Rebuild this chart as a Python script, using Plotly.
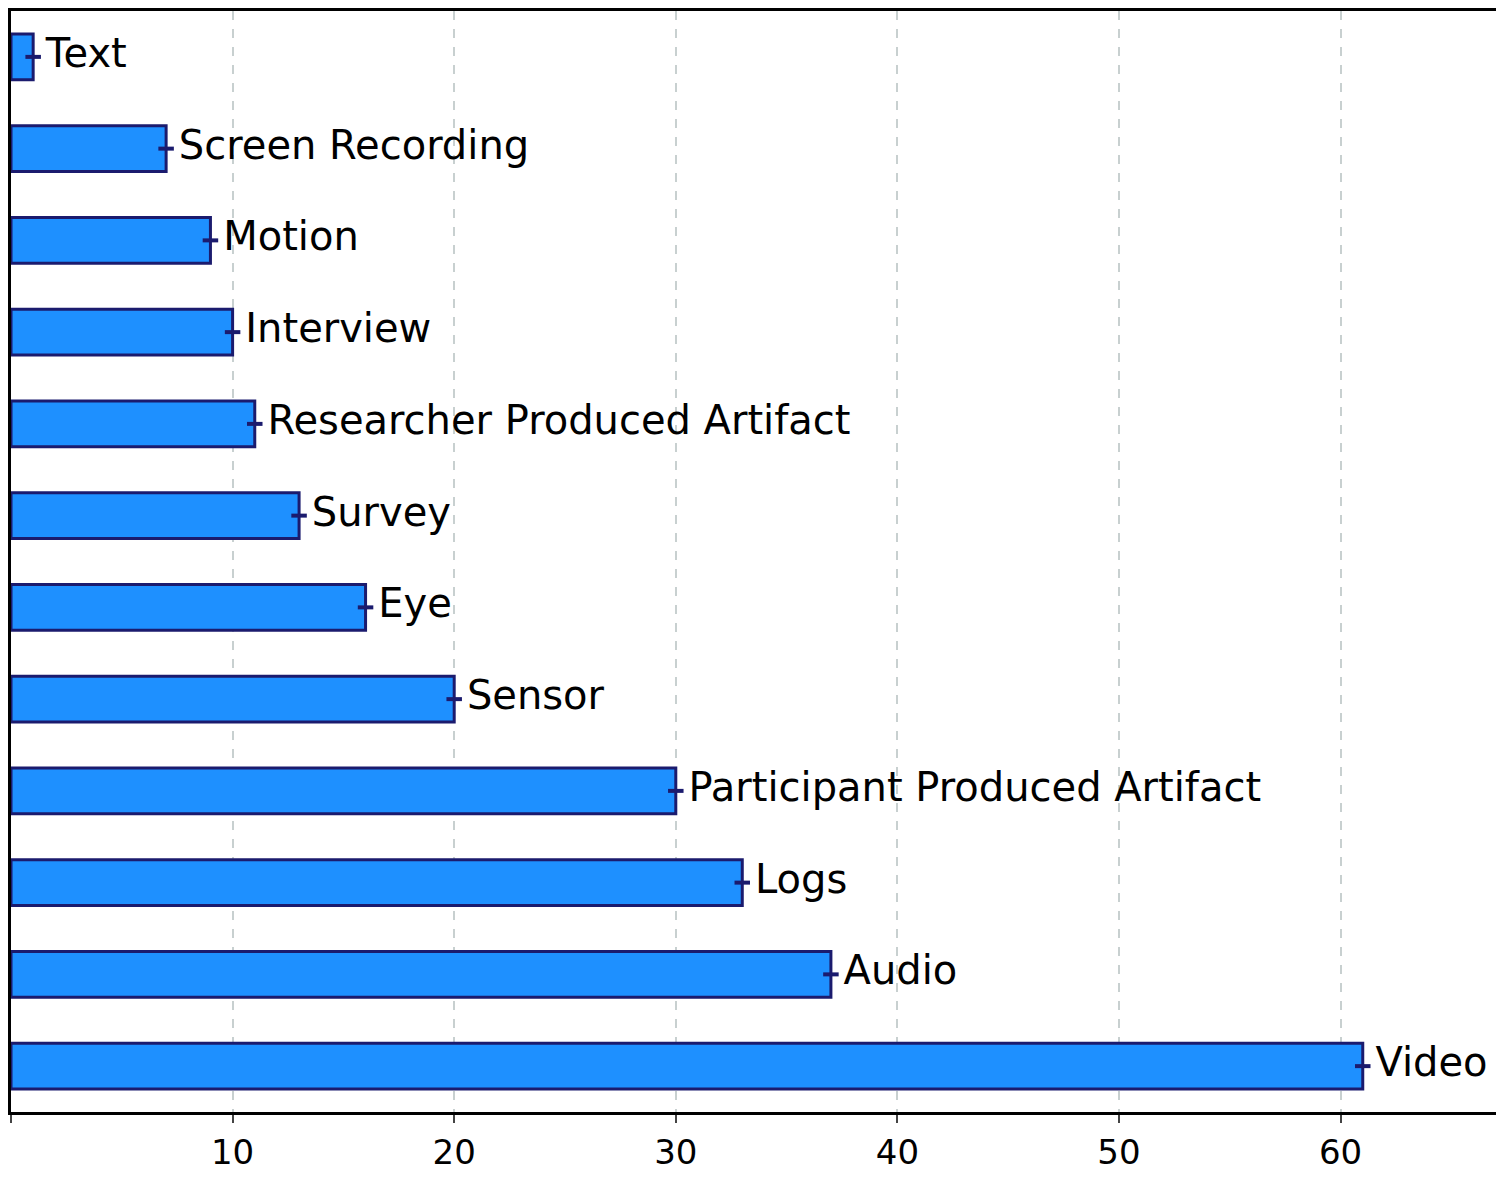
import plotly.graph_objects as go

categories = ["Video", "Audio", "Logs", "Participant Produced Artifact", "Sensor", "Eye",
              "Survey", "Researcher Produced Artifact", "Interview", "Motion",
              "Screen Recording", "Text"]
counts = [61, 37, 33, 30, 20, 16, 13, 11, 10, 9, 7, 1]
err = [0.35] * len(counts)

NAVY = "#1b1b6e"
FILL = "#1e90ff"
FONT = "DejaVu Sans"

fig = go.Figure()
fig.add_trace(go.Bar(
    x=counts, y=list(range(len(counts))), orientation="h", width=0.5,
    marker=dict(color=FILL, line=dict(color=NAVY, width=3)),
    error_x=dict(type="data", array=err, color=NAVY, thickness=4, width=0),
    showlegend=False, hoverinfo="x",
))
fig.add_trace(go.Scatter(
    x=counts, y=list(range(len(counts))), mode="text",
    text=[" " + c for c in categories], textposition="middle right",
    textfont=dict(family=FONT, size=40, color="black"),
    showlegend=False, hoverinfo="skip", cliponaxis=False,
))
fig.update_layout(
    width=1504, height=1178, plot_bgcolor="white", paper_bgcolor="white",
    margin=dict(l=3, r=1, t=0, b=74),
    font=dict(family=FONT, size=34, color="black"),
    xaxis=dict(range=[0, 67.6], tickvals=[0, 10, 20, 30, 40, 50, 60],
               showgrid=True, gridcolor="#c8d0d0", griddash="dash", gridwidth=2,
               ticks="outside", ticklen=8, tickwidth=2, zeroline=False,
               showline=True, linecolor="black", linewidth=2.5, mirror=True),
    yaxis=dict(range=[-0.5, 11.5], showticklabels=False, showgrid=False,
               zeroline=False, showline=True, linecolor="black", linewidth=2.5, mirror=True),
)
fig.write_html("out.html")
